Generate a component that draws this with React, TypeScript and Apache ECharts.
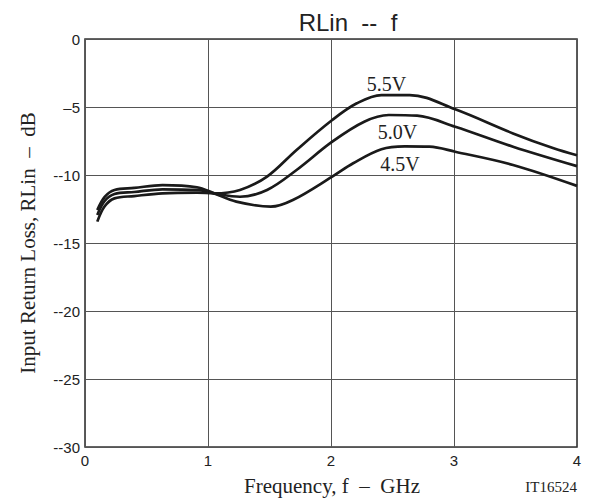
import React, { useEffect, useRef } from "react";
import * as echarts from "echarts";

const freq45 = [0.1, 0.16, 0.24, 0.4, 0.63, 0.91, 1.05, 1.23, 1.51, 1.69, 2.01, 2.18, 2.41, 2.6, 2.8, 3.01, 3.48, 4.0];
const val45 = [-12.57, -11.6, -11.1, -10.95, -10.74, -10.9, -11.35, -11.96, -12.33, -11.84, -10.12, -9.14, -8.11, -7.9, -7.92, -8.29, -9.26, -10.8];

const freq50 = [0.1, 0.16, 0.24, 0.4, 0.63, 0.91, 1.05, 1.26, 1.48, 1.72, 2.01, 2.27, 2.47, 2.7, 3.01, 3.48, 4.0];
const val50 = [-12.94, -11.9, -11.4, -11.25, -11.05, -11.1, -11.35, -11.6, -11.1, -9.63, -7.55, -6.08, -5.59, -5.64, -6.45, -7.92, -9.35];

const freq55 = [0.1, 0.16, 0.24, 0.4, 0.63, 0.91, 1.05, 1.26, 1.48, 1.72, 2.01, 2.21, 2.41, 2.64, 3.01, 3.48, 3.81, 4.0];
const val55 = [-13.43, -12.3, -11.72, -11.55, -11.35, -11.3, -11.35, -11.1, -10.12, -8.16, -5.96, -4.73, -4.12, -4.12, -5.17, -6.94, -8.04, -8.55];

const seriesNames = ["4.5V", "5.0V", "5.5V"];
const labelPos = [
  [2.56, -9.19],
  [2.54, -6.84],
  [2.45, -3.31],
];

const xTicks = [0, 1, 2, 3, 4];
const yTicks = [0, -5, -10, -15, -20, -25, -30];

function yLabel(v: number): string {
  if (v === 0) return "0";
  if (v === -5) return "\u20135";
  return "--" + String(-v);
}

export default function App() {
  const ref = useRef<HTMLDivElement>(null);
  useEffect(() => {
    if (!ref.current) return;
    const chart = echarts.init(ref.current, undefined, { renderer: "svg" });
    const sets = [
      [freq45, val45],
      [freq50, val50],
      [freq55, val55],
    ];
    const series = sets.map((s, i) => ({
      name: seriesNames[i],
      type: "line",
      data: (s[0] as number[]).map((f, j) => [f, (s[1] as number[])[j]]),
      smooth: 0.35,
      symbol: "none",
      lineStyle: { color: "#1a1a1a", width: 2.7 },
      markPoint: {
        symbol: "circle",
        symbolSize: 0,
        data: [
          {
            coord: labelPos[i],
            label: {
              show: true,
              formatter: seriesNames[i],
              position: "inside",
              color: "#222",
              fontFamily: "Liberation Serif",
              fontSize: 20,
            },
          },
        ],
      },
    }));
    chart.setOption({
      animation: false,
      backgroundColor: "#ffffff",
      title: {
        text: "RLin  --  f",
        left: 343,
        top: 5,
        textAlign: "center",
        textStyle: {
          fontFamily: "Liberation Sans",
          fontWeight: "normal",
          fontSize: 24,
          color: "#222",
        },
      },
      grid: {
        left: 85,
        top: 39,
        right: 15,
        bottom: 52,
        show: true,
        borderColor: "#333",
        borderWidth: 1.6,
        containLabel: false,
      },
      xAxis: {
        type: "value",
        min: xTicks[0],
        max: xTicks[xTicks.length - 1],
        interval: 1,
        axisLine: { show: false },
        axisTick: { show: false },
        axisLabel: {
          color: "#222",
          fontFamily: "Liberation Sans",
          fontSize: 15,
          margin: 6,
        },
        splitLine: { show: true, lineStyle: { color: "#555", width: 1 } },
      },
      yAxis: {
        type: "value",
        min: yTicks[yTicks.length - 1],
        max: yTicks[0],
        interval: 5,
        axisLine: { show: false },
        axisTick: { show: false },
        axisLabel: {
          color: "#222",
          fontFamily: "Liberation Sans",
          fontSize: 15,
          margin: 5,
          formatter: (v: number) => yLabel(v),
        },
        splitLine: { show: true, lineStyle: { color: "#555", width: 1 } },
      },
      graphic: [
        {
          type: "text",
          x: 332,
          y: 486,
          style: {
            text: "Frequency, f  \u2013  GHz",
            fontFamily: "Liberation Serif",
            fontSize: 21,
            fill: "#222",
            align: "center",
            verticalAlign: "middle",
          },
        },
        {
          type: "text",
          x: 577,
          y: 487,
          style: {
            text: "IT16524",
            fontFamily: "Liberation Serif",
            fontSize: 15,
            fill: "#222",
            align: "right",
            verticalAlign: "middle",
          },
        },
        {
          type: "text",
          x: 28,
          y: 243,
          rotation: Math.PI / 2,
          style: {
            text: "Input Return Loss, RLin  \u2013  dB",
            fontFamily: "Liberation Serif",
            fontSize: 21,
            fill: "#222",
            align: "center",
            verticalAlign: "middle",
          },
        },
      ],
      series,
    });
    return () => chart.dispose();
  }, []);
  return <div ref={ref} style={{ width: 592, height: 499, position: "absolute", left: 0, top: 0 }} />;
}
